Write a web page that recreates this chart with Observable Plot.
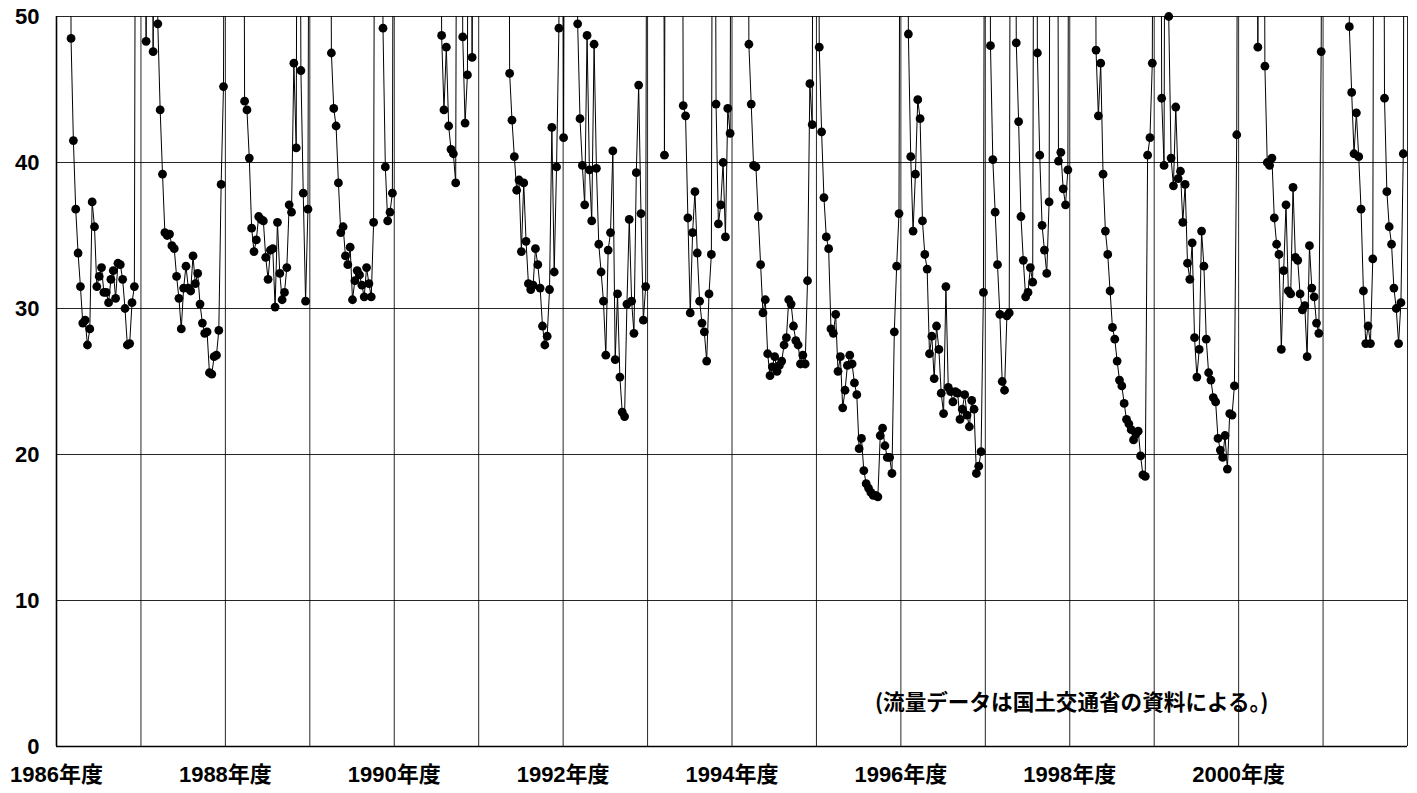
<!DOCTYPE html>
<html>
<head>
<meta charset="utf-8">
<script src="https://cdn.jsdelivr.net/npm/d3@7"></script>
<script src="https://cdn.jsdelivr.net/npm/@observablehq/plot@0.6"></script>
<style>
  html, body { margin: 0; padding: 0; background: #fff; }
</style>
</head>
<body>
<script>
// Fiscal years (each has 36 ten-day "旬" values, April → March).
const years = [1986, 1987, 1988, 1989, 1990, 1991, 1992, 1993, 1994, 1995, 1996, 1997, 1998, 1999, 2000, 2001];
// Values; 100 marks an estimated value above the 50 ceiling (drawn off-chart).
const fy1986 = [100,100,100,100,100,100, 48.5,41.5,36.8,33.8,31.5,29.0,29.2,27.5,28.6,37.3,35.6,31.5,32.2,32.8,31.1,31.1,30.4,32.0,32.6,30.7,33.1,33.0,32.0,30.0,27.5,27.6,30.4,31.5, 100,100];
const fy1987 = [100,100,48.3,100,100,47.6,100, 49.5,43.6,39.2,35.2,35.0,35.1,34.3,34.1,32.2,30.7,28.6,31.4,32.9,31.4,31.2,33.6,31.7,32.4,30.3,29.0,28.3,28.4,25.6,25.5,26.7,26.8,28.5,38.5,45.2];
const fy1988 = [100,100,100,100,100,100,100,100, 44.2,43.6,40.3,35.5,33.9,34.7,36.3,36.1,36.0,33.5,32.0,34.0,34.1,30.1,35.9,32.4,30.6,31.1,32.8,37.1,36.6,46.8,41.0, 100, 46.3,37.9,30.5,36.8];
const fy1989 = [100,100,100,100,100,100,100,100,100, 47.5,43.7,42.5,38.6,35.2,35.6,33.6,33.0,34.2,30.6,31.9,32.6,32.3,31.6,30.8,32.8,31.7,30.8,35.9, 100,100,100, 49.2,39.7,36.0,36.6,37.9];
const fy1990 = [100,100,100,100,100,100,100,100,100,100,100,100,100,100,100,100,100,100,100,100, 48.7,43.6,47.9,42.5,40.9,40.6,38.6, 100,100, 48.6,42.7,46.0, 100, 47.2, 100,100];
const fy1991 = [100,100,100,100,100,100,100,100,100,100,100,100,100, 46.1,42.9,40.4,38.1,38.8,33.9,38.6,34.6,31.7,31.3,31.6,34.1,33.0,31.4,28.8,27.5,28.1,31.3,42.4,32.5,39.7,49.2, 100];
const fy1992 = [41.7, 100,100,100,100,100, 49.5,43.0,39.8,37.1,48.7,39.5,36.0,48.1,39.6,34.4,32.5,30.5,26.8,34.0,35.2,40.8,26.5,31.0,25.3,22.9,22.6,30.3,36.1,30.5,28.3,39.3,45.3,36.5,29.2,31.5];
const fy1993 = [100,100,100,100,100,100,100, 40.5, 100,100,100,100,100,100,100, 43.9,43.2,36.2,29.7,35.2,38.0,33.8,30.5,29.0,28.4,26.4,31.0,33.7, 100, 44.0,35.8,37.1,40.0,34.9,43.7,42.0];
const fy1994 = [100,100,100,100,100,100,100, 48.1,44.0,39.8,39.7,36.3,33.0,29.7,30.6,26.9,25.4,26.0,26.7,25.7,26.1,26.4,27.5,28.0,30.6,30.3,28.8,27.8,27.5,26.2,26.8,26.2,31.9,45.4,42.6, 100];
const fy1995 = [100, 47.9,42.1,37.6,34.9,34.1,28.6,28.3,29.6,25.7,26.7,23.2,24.4,26.1,26.8,26.2,24.9,24.1,20.4,21.1,18.9,18.0,17.7,17.4,17.2,17.2,17.1,21.3,21.8,20.6,19.8,19.8,18.7,28.4,32.9,36.5];
const fy1996 = [100,100,100, 48.8,40.4,35.3,39.2,44.3,43.0,36.0,33.7,32.7,26.9,28.1,25.2,28.8,27.2,24.2,22.8,31.5,24.6,24.3,23.6,24.3,24.2,22.4,23.1,24.1,22.7,21.9,23.7,23.1,18.7,19.2,20.2,31.1];
const fy1997 = [100,100, 48.0,40.2,36.6,33.0,29.6,25.0,24.4,29.5,29.7, 100,100, 48.2,42.8,36.3,33.3,30.8,31.1,32.8,31.8, 100, 47.5,40.5,35.7,34.0,32.4,37.3, 100,100,100, 40.1,40.7,38.2,37.1,39.5];
const fy1998 = [100,100,100,100,100,100,100,100,100,100,100, 47.7,43.2,46.8,39.2,35.3,33.7,31.2,28.7,27.9,26.4,25.1,24.7,23.5,22.4,22.1,21.7,21.0,21.4,21.6,19.9,18.6,18.5,40.5,41.7,46.8];
const fy1999 = [100,100,100, 44.4,39.8, 100, 50.0,40.3,38.4,43.8,38.9,39.4,35.9,38.5,33.1,32.0,34.5,28.0,25.3,27.2,35.3,32.9,27.9,25.6,25.1,23.9,23.6,21.1,20.3,19.8,21.3,19.0,22.8,22.7,24.7,41.9];
const fy2000 = [100,100,100,100,100,100,100,100, 47.9, 100,100, 46.6,40.0,39.8,40.3,36.2,34.4,33.7,27.2,32.6,37.1,31.2,31.0,38.3,33.5,33.3,31.0,29.9,30.2,26.7,34.3,31.4,30.8,29.0,28.3,47.6];
const fy2001 = [100,100,100,100,100,100,100,100,100,100,100, 49.3,44.8,40.6,43.4,40.4,36.8,31.2,27.6,28.8,27.6,33.4, 100,100,100,100, 44.4,38.0,35.6,34.4,31.4,30.0,27.6,30.4,40.6, 100];

const series = [fy1986, fy1987, fy1988, fy1989, fy1990, fy1991, fy1992, fy1993, fy1994, fy1995, fy1996, fy1997, fy1998, fy1999, fy2000, fy2001];

// Axis ticks
const gridYears = [1986, 1987, 1988, 1989, 1990, 1991, 1992, 1993, 1994, 1995, 1996, 1997, 1998, 1999, 2000, 2001, 2002];
const labelYears = [1986, 1988, 1990, 1992, 1994, 1996, 1998, 2000];
const yTicks = [0, 10, 20, 30, 40, 50];
const yGrid = [10, 20, 30, 40, 50];
const note = "(流量データは国土交通省の資料による。)";

const data = [];
years.forEach((yr, k) => {
  series[k].forEach((v, i) => data.push({ t: yr + (i + 0.2) / 36, v }));
});

const chart = Plot.plot({
  width: 1417,
  height: 793,
  marginLeft: 56,
  marginRight: 10,
  marginTop: 16,
  marginBottom: 47,
  style: {
    fontFamily: "'Liberation Sans', 'Noto Sans CJK JP', sans-serif",
    fontWeight: "bold",
    color: "#000",
    background: "#fff"
  },
  x: { domain: [1986, 2002], label: null },
  y: { domain: [0, 50], label: null },
  marks: [
    Plot.text([note], {
      text: d => d,
      frameAnchor: "bottom-right",
      textAnchor: "end",
      lineAnchor: "middle",
      dx: -139,
      dy: -43,
      fontSize: 21.6,
      fontWeight: "bold",
      fontFamily: "'Noto Sans CJK JP', sans-serif",
      fill: "#000"
    }),
    Plot.gridX(gridYears, { stroke: "#000", strokeOpacity: 0.85, strokeWidth: 1 }),
    Plot.gridY(yGrid, { stroke: "#000", strokeOpacity: 0.85, strokeWidth: 1 }),
    Plot.ruleX([1986], { stroke: "#000", strokeWidth: 1.6 }),
    Plot.ruleY([0], { stroke: "#000", strokeWidth: 1.6 }),
    Plot.axisX(labelYears, {
      tickSize: 0,
      tickPadding: 20,
      tickFormat: d => d + "年度",
      fontSize: 22,
      label: null
    }),
    Plot.axisY(yTicks, {
      tickSize: 0,
      tickPadding: 17,
      fontSize: 22,
      label: null
    }),
    Plot.line(data, { x: "t", y: "v", stroke: "#000", strokeWidth: 1, clip: true }),
    Plot.dot(data.filter(d => d.v <= 50), { x: "t", y: "v", r: 4.4, fill: "#000", stroke: "none" })
  ]
});

document.body.appendChild(chart);
</script>
</body>
</html>
